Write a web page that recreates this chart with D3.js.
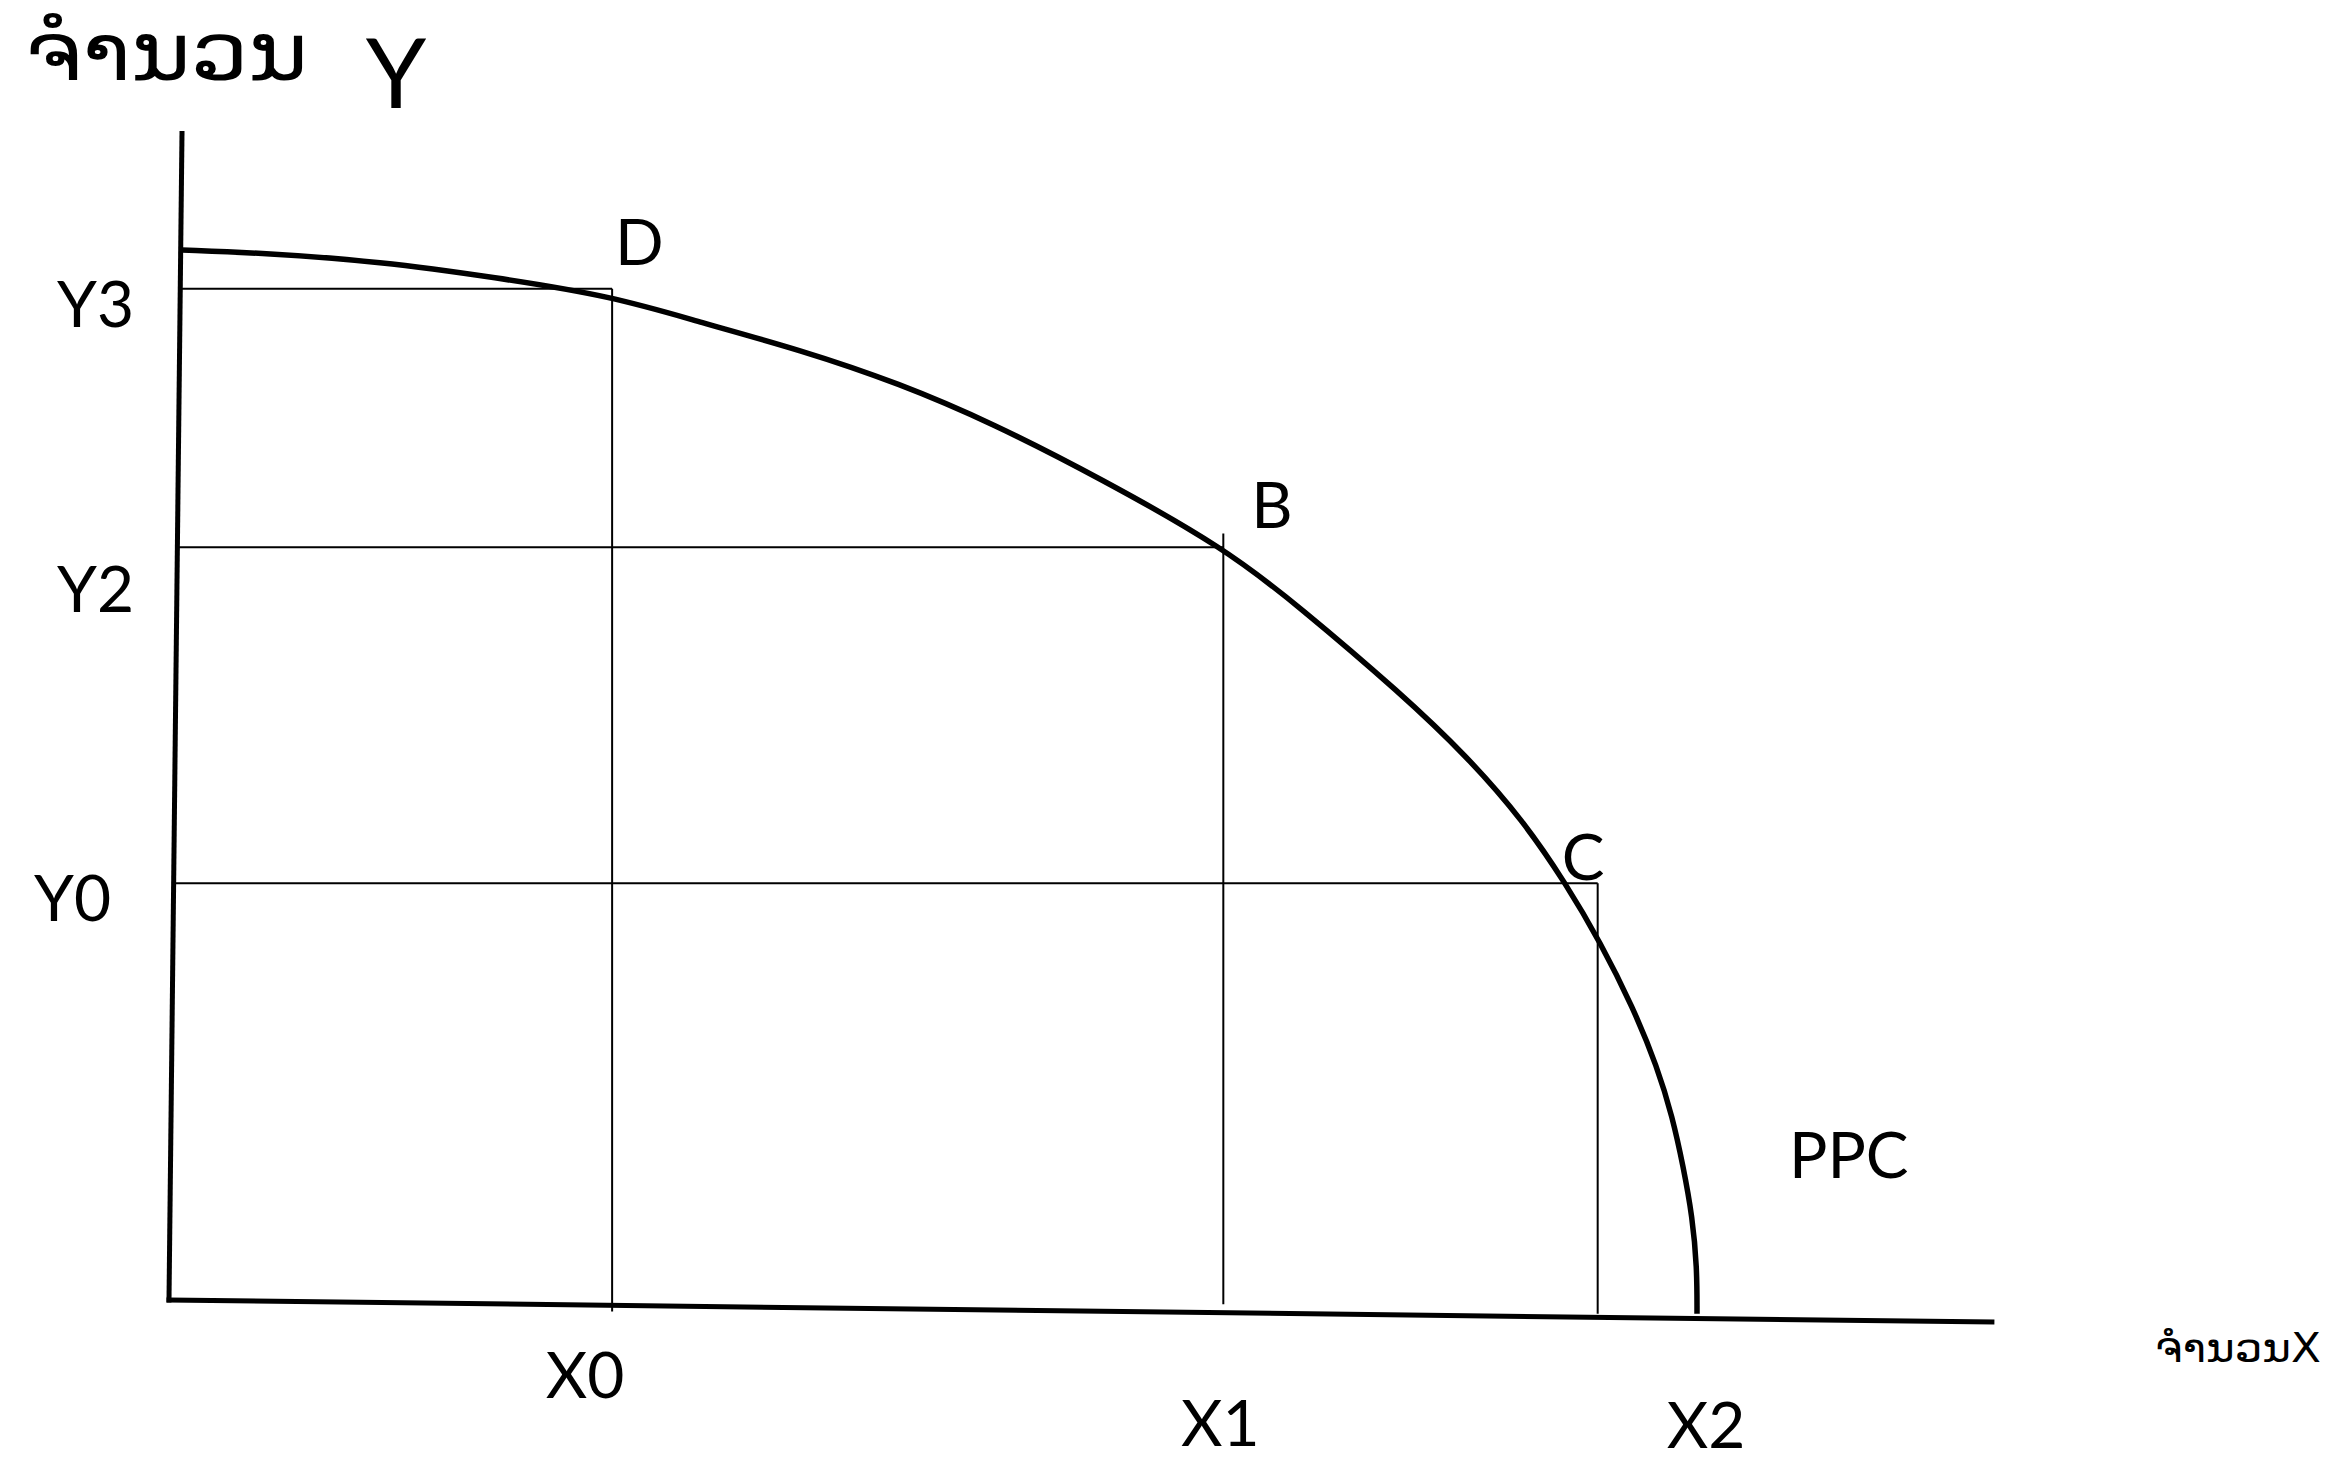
<!DOCTYPE html>
<html>
<head>
<meta charset="utf-8">
<script src="https://cdn.jsdelivr.net/npm/d3@7"></script>
<style>
  body { margin: 0; background: #fff; }
  svg { display: block; }
</style>
</head>
<body>
<div id="chart"></div>
<script>
// PPC curve (quantity X, quantity Y)
var ppcX = [0.85, 6.3, 13.8, 21.3, 29.0, 34.8, 41.3, 47.8, 53.9, 60.9, 69.1, 74.0, 80.6, 85.0, 88.6, 91.4, 93.7, 95.8, 97.4, 98.4, 99.1, 99.7, 100, 100];
var ppcY = [100, 99.7, 98.9, 97.4, 95.6, 93.1, 90.5, 87.3, 83.5, 78.3, 71.6, 66.0, 57.8, 51.7, 45.7, 39.7, 34.0, 27.9, 22.2, 17.4, 12.7, 7.9, 3.1, -1.3];

// tick labels
var xLabels = ["X0", "X1", "X2"];
var xValues = [29.0, 69.0, 100];
var yLabels = ["Y3", "Y2", "Y0"];
var yValues = [96.3, 71.7, 39.7];

// marked points D, B, C and their drop lines
var pointLabels = ["D", "B", "C"];
var pointX = [29.0, 69.0, 93.5];
var pointY = [96.3, 71.7, 39.7];
var dropTop = [96.3, 73.0, 39.7];
var dropBottom = [-1.1, -0.4, -1.3];

// hand drawn axes (slightly skewed in the scan)
var yAxisEnds = [[0, 0], [0.85, 111.1]];
var xAxisEnds = [[0, 0], [119.3, -2.1]];

var titleY = "ຈຳນວນ";
var titleYLetter = "Y";
var titleX = "ຈຳນວນX";
var curveName = "PPC";

var W = 2339, H = 1461;

var svg = d3.select("#chart")
  .append("svg")
    .attr("width", W)
    .attr("height", H);

svg.append("rect").attr("width", W).attr("height", H).attr("fill", "#fff");

var x = d3.scaleLinear().domain([0, 100]).range([169, 1697]);
var y = d3.scaleLinear().domain([0, 100]).range([1300, 250]);

var seg = d3.line()
  .x(function(d) { return x(d[0]); })
  .y(function(d) { return y(d[1]); });

// x position of the y axis at a given height
function axisXAt(v) {
  var a = yAxisEnds[0], b = yAxisEnds[1];
  return a[0] + (b[0] - a[0]) * (v - a[1]) / (b[1] - a[1]);
}

// guide lines
var guides = svg.append("g")
  .attr("stroke", "#000")
  .attr("stroke-width", 2)
  .attr("fill", "none");

pointLabels.forEach(function(p, i) {
  guides.append("path")
    .attr("d", seg([[axisXAt(pointY[i]), pointY[i]], [pointX[i], pointY[i]]]));
  guides.append("path")
    .attr("d", seg([[pointX[i], dropTop[i]], [pointX[i], dropBottom[i]]]));
});

// axes
[yAxisEnds, xAxisEnds].forEach(function(ends) {
  svg.append("path")
    .attr("d", seg(ends))
    .attr("stroke", "#000")
    .attr("stroke-width", 5)
    .attr("stroke-linecap", "square")
    .attr("fill", "none");
});

// the curve (smoothed through the read points)
var ppc = ppcX.map(function(v, i) { return [v, ppcY[i]]; });
svg.append("path")
  .datum(ppc)
  .attr("fill", "none")
  .attr("stroke", "#000")
  .attr("stroke-width", 5.5)
  .attr("stroke-linejoin", "round")
  .attr("d", d3.line()
    .curve(d3.curveBasis)
    .x(function(d) { return x(d[0]); })
    .y(function(d) { return y(d[1]); })
  );

var latin = "Lato, 'Open Sans', sans-serif";

// y tick labels (offsets follow the scan)
var yLabLeft = [57, 57, 34];
var yLabDrop = [38, 65, 38];
svg.selectAll(".ylab")
  .data(yLabels)
  .enter().append("text")
    .attr("class", "ylab")
    .attr("x", function(d, i) { return yLabLeft[i]; })
    .attr("y", function(d, i) { return y(yValues[i]) + yLabDrop[i]; })
    .attr("font-family", latin)
    .attr("font-size", 64)
    .text(function(d) { return d; });

// x tick labels
var xLabShift = [-27, -3, 9];
var xLabBase = [1398, 1446, 1448];
svg.selectAll(".xlab")
  .data(xLabels)
  .enter().append("text")
    .attr("class", "xlab")
    .attr("x", function(d, i) { return x(xValues[i]) + xLabShift[i]; })
    .attr("y", function(d, i) { return xLabBase[i]; })
    .attr("text-anchor", "middle")
    .attr("font-family", latin)
    .attr("font-size", 64)
    .text(function(d) { return d; });

// point labels
var ptDx = [3, 28, -36];
var ptDy = [-24, -19, -3];
svg.selectAll(".ptlab")
  .data(pointLabels)
  .enter().append("text")
    .attr("class", "ptlab")
    .attr("x", function(d, i) { return x(pointX[i]) + ptDx[i]; })
    .attr("y", function(d, i) { return y(pointY[i]) + ptDy[i]; })
    .attr("font-family", latin)
    .attr("font-size", 64)
    .text(function(d) { return d; });

svg.append("text")
  .attr("x", 1789)
  .attr("y", 1178)
  .attr("font-family", latin)
  .attr("font-size", 64)
  .text(curveName);

// axis titles
svg.append("text")
  .attr("x", 25)
  .attr("y", 80)
  .attr("font-family", "'DejaVu Sans', sans-serif")
  .attr("font-size", 80)
  .attr("textLength", 283)
  .attr("lengthAdjust", "spacingAndGlyphs")
  .text(titleY);

svg.append("text")
  .attr("x", 396)
  .attr("y", 108)
  .attr("text-anchor", "middle")
  .attr("font-family", latin)
  .attr("font-size", 97)
  .text(titleYLetter);

svg.append("text")
  .attr("x", 2155)
  .attr("y", 1362)
  .attr("font-family", "'DejaVu Sans', sans-serif")
  .attr("font-size", 40)
  .attr("textLength", 166)
  .attr("lengthAdjust", "spacingAndGlyphs")
  .text(titleX);
</script>
</body>
</html>
